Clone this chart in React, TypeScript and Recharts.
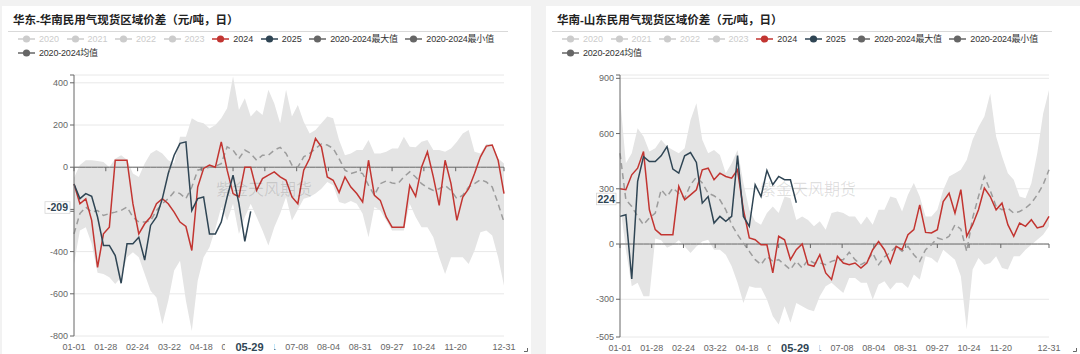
import { Area, CartesianGrid, ComposedChart, Line, XAxis, YAxis } from "recharts";

// day of year (2024 calendar), sampled every 5 days
const days = [
  0, 5, 10, 15, 20, 25, 30, 35, 40, 45,
  50, 55, 60, 65, 70, 75, 80, 85, 90, 95,
  100, 105, 110, 115, 120, 125, 130, 135, 140, 145,
  150, 155, 160, 165, 170, 175, 180, 185, 190, 195,
  200, 205, 210, 215, 220, 225, 230, 235, 240, 245,
  250, 255, 260, 265, 270, 275, 280, 285, 290, 295,
  300, 305, 310, 315, 320, 325, 330, 335, 340, 345,
  350, 355, 360, 365,
];

const tickDays = [0, 27, 54, 81, 108, 135, 162, 189, 216, 243, 270, 297, 324, 365];
const tickLabels = [
  "01-01", "01-28", "02-24", "03-22", "04-18", "05-15", "06-11",
  "07-08", "08-04", "08-31", "09-27", "10-24", "11-20", "12-31",
];
const pointerDay = 149;
const pointerLabel = "05-29";

const legendNames = [
  "2020", "2021", "2022", "2023", "2024", "2025",
  "2020-2024最大值", "2020-2024最小值", "2020-2024均值",
];
const legendColors = ["#ccc", "#ccc", "#ccc", "#ccc", "#c23531", "#2f4554", "#666", "#666", "#666"];

// 华东-华南
const eastMax = [
  -50, 10, 33, 33, 30, 25, 0, 40, 57, 35,
  -30, -46, 17, 65, 81, 65, 33, 17, 144, 144,
  232, 216, 208, 184, 200, 232, 279, 430, 271, 327,
  240, 271, 248, 367, 302, 208, 367, 240, 295, 216,
  160, 176, 208, 240, 232, 129, 57, 65, 81, 81,
  129, 65, 65, 73, 89, 89, 144, 97, 94, 121,
  129, 81, 81, 73, 89, 121, 160, 176, 73, 65,
  110, 110, 41, 17,
];
const eastMin = [
  -459, -300, -284, -363, -500, -506, -522, -554, -522, -427,
  -403, -427, -506, -586, -617, -744, -633, -490, -443, -633,
  -776, -538, -427, -379, -292, -189, -252, -173, -316, -236,
  -173, -236, -300, -371, -284, -220, -141, -252, -200, -149,
  -141, -125, -102, -70, -86, -165, -173, -160, -173, -221,
  -332, -189, -205, -252, -300, -300, -300, -173, -236, -284,
  -284, -332, -427, -506, -427, -427, -427, -459, -395, -308,
  -300, -324, -427, -562,
];
const eastMean = [
  -316, -220, -189, -213, -205, -229, -220, -213, -205, -189,
  -236, -260, -260, -255, -205, -173, -149, -117, -125, -149,
  -94, -14, -6, 0, 5, 17, 97, 81, 41, 81,
  65, 33, 57, 57, 81, 94, 65, 10, 0, 49,
  65, 89, 110, 105, 89, 41, -14, -30, -22, -30,
  -86, -133, -78, -65, -75, -78, -46, -22, -46, -78,
  -97, -110, -102, -86, -110, -149, -133, -94, -78, -59,
  -70, -94, -173, -260,
];
const east2024 = [
  -80, -173, -150, -252, -475, -316, -284, 33, 33, 33,
  -173, -316, -268, -236, -173, -149, -173, -213, -260, -281,
  -395, -94, -6, 10, 0, 120, -14, -125, -141, 0,
  0, -110, -54, -38, -22, -46, -62, -141, -173, -14,
  41, 136, 97, -46, -62, -120, -46, -94, -125, -165,
  33, -133, -157, -236, -284, -284, -284, -86, -138, 0,
  73, -46, -181, 33, -78, -252, -141, -102, -30, 49,
  100, 105, 33, -125,
];
const east2025 = [
  -80, -149, -125, -138, -236, -371, -371, -419, -550, -363,
  -363, -332, -440, -276, -236, -149, -30, 57, 113, 120,
  -205, -149, -141, -316, -316, -260, -141, -38, -173, -351, -209,
];
const eastTicks = [-800, -600, -400, -200, 0, 200, 400];

// 华南-山东
const southMax = [
  800, 439, 493, 629, 584, 502, 520, 566, 529, 511,
  493, 520, 674, 764, 566, 493, 511, 484, 385, 439,
  511, 331, 186, 123, 105, 168, 204, 168, 258, 249,
  130, 150, 130, 96, 123, 78, 168, 177, 168, 150,
  150, 105, 150, 105, 186, 186, 258, 249, 177, 267,
  331, 258, 150, 150, 186, 293, 367, 385, 403, 457,
  566, 636, 692, 818, 584, 477, 385, 349, 258, 249,
  330, 493, 707, 836,
];
const southMin = [
  222, -31, -230, -211, -284, -284, 30, 20, -20, -5,
  20, -13, -49, -13, 14, 23, -31, -31, -58, -121,
  -211, -320, -229, -238, -238, -302, -392, -437, -338, -428,
  -320, -338, -356, -365, -284, -229, -211, -239, -266, -184,
  -184, -211, -211, -302, -220, -202, -247, -211, -211, -239,
  -166, -193, -67, -76, -103, -31, -58, -85, -175, -464,
  -139, -76, -112, -103, -67, -130, -139, -67, -67, -31,
  -4, 23, 51, 96,
];
const southMean = [
  493, 240, 204, 150, 105, 141, 168, 295, 258, 304,
  276, 249, 322, 363, 331, 276, 262, 240, 186, 105,
  51, 5, -40, -85, -112, -67, -94, -85, -112, -139,
  -94, -130, -85, -103, -103, -112, -94, -85, -85, -45,
  -85, -112, -94, -49, -112, -70, -45, -13, -40, -13,
  -58, -94, -31, -4, 33, 23, 42, 105, 81, -40,
  141, 258, 367, 291, 204, 186, 195, 168, 177, 195,
  222, 267, 322, 403,
];
const south2024 = [
  300, 295, 376, 412, 502, 186, 78, 51, 51, 51,
  313, 240, 267, 295, 403, 412, 349, 385, 367, 358,
  403, 186, 33, 23, -4, -4, -157, 42, 23, -85,
  -31, 0, -112, -121, -58, -157, -193, -67, -103, -112,
  -103, -130, -103, -31, 14, -31, -103, -13, -31, 51,
  78, 213, 63, 60, 78, 231, 276, 168, 295, 42,
  105, 186, 304, 258, 186, 222, 105, 42, 114, 96,
  132, 87, 96, 150,
];
const south2025 = [
  150, 159, -190, 340, 475, 448, 448, 479, 529, 407,
  385, 479, 497, 443, 222, 258, 114, 150, 123, 150,
  480, 150, 96, 322, 258, 400, 322, 367, 349, 349, 224,
];
const southTicks = [-505, -300, 0, 300, 600, 900];

const fontStack = '"Liberation Sans", "Noto Sans CJK SC", sans-serif';

type PanelConfig = {
  title: string;
  cardX: number;
  cardWidth: number;
  axisWidth: number;
  marginRight: number;
  xAxisHeight: number;
  domain: [number, number];
  ticks: number[];
  max: number[];
  min: number[];
  mean: number[];
  y2024: number[];
  y2025: number[];
};

const panels: PanelConfig[] = [
  {
    title: "华东-华南民用气现货区域价差（元/吨，日）",
    cardX: 2,
    cardWidth: 529,
    axisWidth: 72,
    marginRight: 27,
    xAxisHeight: 18,
    domain: [-800, 437],
    ticks: eastTicks,
    max: eastMax,
    min: eastMin,
    mean: eastMean,
    y2024: east2024,
    y2025: east2025,
  },
  {
    title: "华南-山东民用气现货区域价差（元/吨，日）",
    cardX: 546,
    cardWidth: 534,
    axisWidth: 74,
    marginRight: 31,
    xAxisHeight: 17,
    domain: [-505, 918],
    ticks: southTicks,
    max: southMax,
    min: southMin,
    mean: southMean,
    y2024: south2024,
    y2025: south2025,
  },
];

const CARD_H = 348;
const MARGIN_TOP = 69;

function buildRows(cfg: PanelConfig) {
  return days.map((day, i) => ({
    day,
    band: [cfg.min[i], cfg.max[i]],
    mean: cfg.mean[i],
    y2024: cfg.y2024[i],
    y2025: i < cfg.y2025.length ? cfg.y2025[i] : null,
  }));
}

function LegendIcon({ color }: { color: string }) {
  return (
    <svg width={17} height={10} style={{ display: "block" }}>
      <line x1={0} y1={5} x2={17} y2={5} stroke={color} strokeWidth={1.5} />
      <circle cx={8.5} cy={5} r={3.6} fill={color} />
    </svg>
  );
}

function LegendRows() {
  const rows = [legendNames.slice(0, 8), legendNames.slice(8)];
  let idx = 0;
  return (
    <>
      {rows.map((row, r) => (
        <div
          key={r}
          style={{
            position: "absolute",
            left: 16,
            top: 28 + r * 14,
            display: "flex",
            alignItems: "center",
            height: 10,
            whiteSpace: "nowrap",
          }}
        >
          {row.map((name) => {
            const color = legendColors[idx++];
            const active = color !== "#ccc";
            return (
              <div key={name} style={{ display: "flex", alignItems: "center", marginRight: 7.5 }}>
                <LegendIcon color={color} />
                <span
                  style={{
                    marginLeft: 4,
                    fontSize: 9,
                    lineHeight: "10px",
                    letterSpacing: name.length > 4 ? -0.2 : 0,
                    color: active ? "#333" : "#ccc",
                  }}
                >
                  {name}
                </span>
              </div>
            );
          })}
        </div>
      ))}
    </>
  );
}

function Panel({ cfg }: { cfg: PanelConfig }) {
  const rows = buildRows(cfg);
  const [dMin, dMax] = cfg.domain;
  const plotH = CARD_H - MARGIN_TOP - cfg.xAxisHeight;
  const lastValue = cfg.y2025[cfg.y2025.length - 1];

  const xTick = (p: any) => {
    const v = p.payload.value;
    const zeroY = p.y - (plotH * (0 - dMin)) / (dMax - dMin);
    if (v === pointerDay) {
      return (
        <g>
          <rect x={p.x - 24.5} y={p.y + 3} width={49} height={16} fill="#fff" />
          <text
            x={p.x}
            y={p.y + 11}
            dy="0.35em"
            textAnchor="middle"
            fontSize={11}
            fontWeight={700}
            fill="#2f4554"
          >
            {pointerLabel}
          </text>
        </g>
      );
    }
    return (
      <g>
        <line x1={p.x} x2={p.x} y1={zeroY} y2={zeroY + 4} stroke="#666" />
        <text x={p.x} y={p.y + 11} dy="0.35em" textAnchor="middle" fontSize={9} fill="#666">
          {tickLabels[tickDays.indexOf(v)]}
        </text>
      </g>
    );
  };

  const yTick = (p: any) => {
    const v = p.payload.value;
    if (v === dMax) return <g />;
    if (v === lastValue) {
      const label = String(v);
      const w = label.length * 5.5 + 3;
      return (
        <g>
          <rect
            x={p.x + 2 - w}
            y={p.y - 9.6}
            width={w}
            height={11.6}
            fill="#fff"
            stroke="#d6d6d6"
            strokeWidth={0.8}
          />
          <text
            x={p.x + 2 - w / 2}
            y={p.y - 3.8}
            dy="0.35em"
            textAnchor="middle"
            fontSize={10.5}
            fontWeight={700}
            fill="#2f4554"
          >
            {label}
          </text>
        </g>
      );
    }
    return (
      <text x={p.x} y={p.y} dy="0.35em" textAnchor="end" fontSize={9} fill="#666">
        {v}
      </text>
    );
  };

  return (
    <div
      style={{
        position: "absolute",
        left: cfg.cardX,
        top: 6,
        width: cfg.cardWidth,
        height: CARD_H,
        background: "#fff",
      }}
    >
      <div
        style={{
          position: "absolute",
          left: 11,
          top: 6,
          fontSize: 11.5,
          lineHeight: "16px",
          fontWeight: 700,
          color: "#222",
          whiteSpace: "nowrap",
        }}
      >
        {cfg.title}
      </div>
      <div style={{ position: "absolute", left: 6, top: 25, width: 500, height: 1, background: "#d9d9d9" }} />
      <LegendRows />
      <div style={{ position: "absolute", left: 0, top: 0 }}>
        <ComposedChart
          width={cfg.cardWidth}
          height={CARD_H}
          data={rows}
          margin={{ top: MARGIN_TOP, right: cfg.marginRight, bottom: 0, left: 0 }}
        >
          <CartesianGrid
            vertical={false}
            horizontalValues={[...cfg.ticks, dMax]}
            stroke="#e8e8e8"
          />
          <XAxis
            type="number"
            dataKey="day"
            domain={[0, 365]}
            ticks={[...tickDays, pointerDay]}
            interval={0}
            height={cfg.xAxisHeight}
            axisLine={false}
            tickLine={false}
            tickSize={0}
            tickMargin={0}
            tick={xTick}
          />
          <YAxis
            type="number"
            domain={cfg.domain}
            ticks={[...cfg.ticks, dMax, lastValue]}
            interval={0}
            width={cfg.axisWidth}
            allowDataOverflow
            axisLine={{ stroke: "#666" }}
            tickLine={{ stroke: "#666" }}
            tickSize={4}
            tickMargin={2}
            tick={yTick}
          />
          <Area
            dataKey="band"
            stroke="none"
            fill="#e4e4e4"
            fillOpacity={1}
            isAnimationActive={false}
            activeDot={false}
          />
          <Line
            dataKey={() => 0}
            stroke="#666"
            strokeWidth={1}
            dot={false}
            activeDot={false}
            isAnimationActive={false}
          />
          <Line
            dataKey="mean"
            stroke="#9c9c9c"
            strokeWidth={1.5}
            strokeDasharray="6 4"
            dot={false}
            activeDot={false}
            isAnimationActive={false}
          />
          <Line
            dataKey="y2024"
            stroke="#c23531"
            strokeWidth={1.5}
            dot={false}
            activeDot={false}
            isAnimationActive={false}
          />
          <Line
            dataKey="y2025"
            stroke="#2f4554"
            strokeWidth={1.5}
            dot={false}
            activeDot={false}
            isAnimationActive={false}
          />
        </ComposedChart>
      </div>
      <div
        style={{
          position: "absolute",
          left: 214,
          top: 174,
          fontSize: 16,
          lineHeight: "20px",
          color: "rgba(0,0,0,0.12)",
          whiteSpace: "nowrap",
          pointerEvents: "none",
        }}
      >
        紫金天风期货
      </div>
      <svg style={{ position: "absolute", left: cfg.cardWidth - 7, top: 342 }} width={5} height={5}>
        <path d="M3.5 0 V3.5 H0" fill="none" stroke="#666" strokeWidth={1} />
      </svg>
    </div>
  );
}

export default function App() {
  return (
    <div
      style={{
        position: "absolute",
        left: 0,
        top: 0,
        width: 1080,
        height: 354,
        overflow: "hidden",
        background: "#f2f2f2",
        fontFamily: fontStack,
      }}
    >
      {panels.map((cfg) => (
        <Panel key={cfg.title} cfg={cfg} />
      ))}
    </div>
  );
}
